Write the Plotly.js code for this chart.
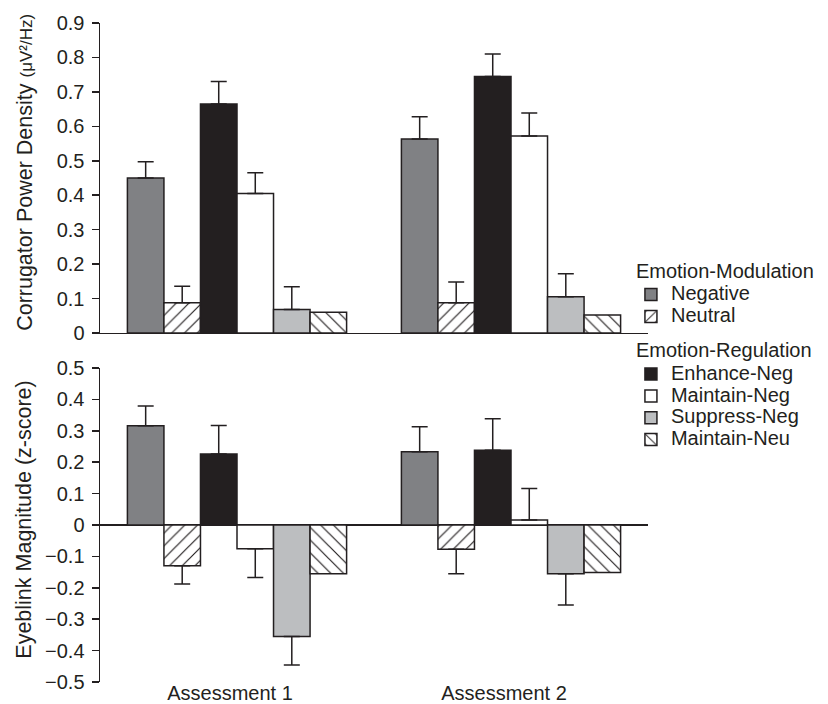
<!DOCTYPE html>
<html>
<head>
<meta charset="utf-8">
<script src="https://cdn.plot.ly/plotly-3.0.1.min.js"></script>
<style>html,body{margin:0;padding:0;background:#fff;}#chart{width:828px;height:704px;}</style>
</head>
<body>
<div id="chart"></div>
<script>
// ---------- data ----------
const assessments = ['Assessment 1', 'Assessment 2'];

const seriesNames = ['Negative', 'Neutral', 'Enhance-Neg', 'Maintain-Neg', 'Suppress-Neg', 'Maintain-Neu'];
const seriesGroups = ['Emotion-Modulation', 'Emotion-Modulation', 'Emotion-Regulation', 'Emotion-Regulation', 'Emotion-Regulation', 'Emotion-Regulation'];

// Corrugator power density (top panel)
const corrNegative = [0.450, 0.563];
const corrNeutral = [0.088, 0.088];
const corrEnhance = [0.665, 0.745];
const corrMaintain = [0.405, 0.572];
const corrSuppress = [0.068, 0.105];
const corrMaintainNeu = [0.060, 0.052];

const corrNegativeErr = [0.047, 0.065];
const corrNeutralErr = [0.048, 0.060];
const corrEnhanceErr = [0.065, 0.065];
const corrMaintainErr = [0.060, 0.067];
const corrSuppressErr = [0.066, 0.067];
const corrMaintainNeuErr = null;

// Eyeblink magnitude (bottom panel)
const blinkNegative = [0.316, 0.233];
const blinkNeutral = [-0.130, -0.077];
const blinkEnhance = [0.226, 0.238];
const blinkMaintain = [-0.076, 0.016];
const blinkSuppress = [-0.355, -0.155];
const blinkMaintainNeu = [-0.155, -0.151];

const blinkNegativeErr = [0.063, 0.080];
const blinkNeutralErr = [0.058, 0.078];
const blinkEnhanceErr = [0.091, 0.100];
const blinkMaintainErr = [0.091, 0.100];
const blinkSuppressErr = [0.091, 0.100];
const blinkMaintainNeuErr = null;

// ---------- styles ----------
const INK = '#231f20';
const FONT = 'Liberation Sans, Arial, Helvetica, sans-serif';
const styles = [
  {color: '#808184'},
  {color: '#ffffff', pattern: {shape: '/', bgcolor: '#ffffff', fgcolor: INK, size: 9, solidity: 0.13}},
  {color: '#231f20'},
  {color: '#ffffff'},
  {color: '#bcbec0'},
  {color: '#ffffff', pattern: {shape: '\\', bgcolor: '#ffffff', fgcolor: INK, size: 9, solidity: 0.13}}
];

const corrVals = [corrNegative, corrNeutral, corrEnhance, corrMaintain, corrSuppress, corrMaintainNeu];
const corrErrs = [corrNegativeErr, corrNeutralErr, corrEnhanceErr, corrMaintainErr, corrSuppressErr, corrMaintainNeuErr];
const blinkVals = [blinkNegative, blinkNeutral, blinkEnhance, blinkMaintain, blinkSuppress, blinkMaintainNeu];
const blinkErrs = [blinkNegativeErr, blinkNeutralErr, blinkEnhanceErr, blinkMaintainErr, blinkSuppressErr, blinkMaintainNeuErr];

const big = s => '<span style="font-size:20px">' + s + '</span>';

function makeTrace(i, vals, errs, xa, ya, showLegend) {
  const marker = {color: styles[i].color, line: {color: INK, width: 1.5}};
  if (styles[i].pattern) marker.pattern = styles[i].pattern;
  const t = {
    type: 'bar', name: big(seriesNames[i]), x: assessments, y: vals,
    xaxis: xa, yaxis: ya, marker: marker,
    legendgroup: seriesGroups[i], showlegend: showLegend,
    hoverinfo: 'skip'
  };
  if (i === 0 || i === 2) t.legendgrouptitle = {text: big(seriesGroups[i]), font: {family: FONT, size: 16, color: INK}};
  if (errs) {
    t.error_y = {
      type: 'data', symmetric: false,
      array: vals.map((v, k) => v >= 0 ? errs[k] : 0),
      arrayminus: vals.map((v, k) => v < 0 ? errs[k] : 0),
      color: INK, thickness: 1.5, width: 8
    };
  }
  return t;
}

const traces = [];
for (let i = 0; i < 6; i++) traces.push(makeTrace(i, corrVals[i], corrErrs[i], 'x', 'y', true));
for (let i = 0; i < 6; i++) traces.push(makeTrace(i, blinkVals[i], blinkErrs[i], 'x2', 'y2', false));

const yCommon = {
  showline: true, linecolor: INK, linewidth: 1.5,
  ticks: 'outside', ticklen: 7, tickwidth: 1.5, tickcolor: INK,
  showgrid: false, dtick: 0.1, ticklabelstandoff: 3,
  tickfont: {family: FONT, size: 20, color: INK}
};

const layout = {
  width: 828, height: 704,
  margin: {l: 100, r: 180, t: 23, b: 22, autoexpand: false},
  paper_bgcolor: '#ffffff', plot_bgcolor: '#ffffff',
  barmode: 'group', bargap: 0.2, bargroupgap: 0,
  font: {family: FONT, color: INK},
  showlegend: true,
  legend: {
    xref: 'container', yref: 'container',
    x: 0.762, xanchor: 'left', y: 0.638, yanchor: 'top',
    traceorder: 'grouped', tracegroupgap: 12,
    font: {family: FONT, size: 14.5, color: INK},
    bgcolor: 'rgba(0,0,0,0)'
  },
  xaxis: {
    domain: [0, 1], anchor: 'y', type: 'category', range: [-0.5, 1.5],
    showline: true, linecolor: INK, linewidth: 1.5,
    ticks: '', showticklabels: false, showgrid: false, zeroline: false
  },
  yaxis: Object.assign({}, yCommon, {domain: [0.5296, 1], anchor: 'x', range: [0, 0.9], zeroline: false}),
  xaxis2: {
    domain: [0, 1], anchor: 'y2', type: 'category', range: [-0.5, 1.5],
    showline: false, ticks: '', showgrid: false, zeroline: false,
    tickfont: {family: FONT, size: 20, color: INK}, ticklabelshift: -7, ticklabelstandoff: -3
  },
  yaxis2: Object.assign({}, yCommon, {domain: [0, 0.4765], anchor: 'x2', range: [-0.5, 0.5],
    zeroline: true, zerolinecolor: INK, zerolinewidth: 1.5}),
  annotations: [
    {text: 'Corrugator Power Density <span style="font-size:17px">(μV²/Hz)</span>', xref: 'paper', yref: 'paper',
     x: -0.137, y: 0.774, xanchor: 'center', yanchor: 'middle', textangle: -90, showarrow: false,
     font: {family: FONT, size: 21.5, color: INK}},
    {text: 'Eyeblink Magnitude (z-score)', xref: 'paper', yref: 'paper',
     x: -0.139, y: 0.246, xanchor: 'center', yanchor: 'middle', textangle: -90, showarrow: false,
     font: {family: FONT, size: 21.5, color: INK}}
  ]
};

Plotly.newPlot('chart', traces, layout, {staticPlot: true, displayModeBar: false});
</script>
</body>
</html>
